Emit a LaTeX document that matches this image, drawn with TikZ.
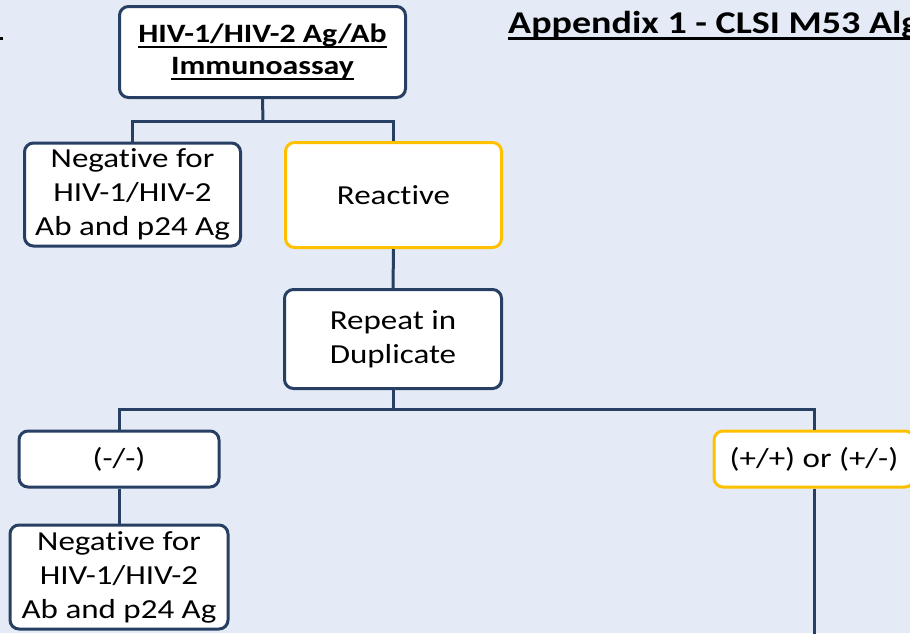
\documentclass[tikz,border=0pt]{standalone}
\usepackage{fontspec}
\setmainfont{Carlito}[FakeStretch=1.2, Ligatures=NoCommon]
\definecolor{bg}{HTML}{E5EBF6}
\definecolor{navy}{HTML}{263F63}
\definecolor{gold}{HTML}{FFC000}
\newcommand{\boxtext}{\fontsize{27.5}{34}\selectfont}
% #1 = lowering of rule bottom, #2 = thickness, #3 = text
\newcommand{\myul}[3]{\setbox0\hbox{#3}\rlap{\rule[-#1]{\wd0}{#2}}\box0}
\tikzset{
  flowbox/.style={draw=navy, line width=3pt, fill=white, rounded corners=9pt,
    align=center, font=\boxtext, inner sep=0pt},
  goldbox/.style={flowbox, draw=gold},
  link/.style={draw=navy, line width=3pt},
}
\begin{document}
\begin{tikzpicture}[x=1pt,y=-1pt]
\useasboundingbox (0,0) rectangle (910,633);
\fill[bg] (0,0) rectangle (910,633);
\fill[black] (0,37) rectangle (2.5,39.5);

\node[anchor=base west, inner sep=0pt, font=\fontsize{31.7}{38}\selectfont\bfseries] (title) at (508,33)
  {\myul{6.5pt}{3pt}{Appendix 1 - CLSI M53 Algorithm}};

\node[flowbox, minimum width=286pt, minimum height=91pt, font=\fontsize{26.5}{32}\selectfont\bfseries] (top) at (262.5,52)
  {\myul{5.3pt}{2.3pt}{HIV-1/HIV-2 Ag/Ab}\\\myul{5.3pt}{2.3pt}{Immunoassay}};
\node[flowbox, minimum width=216pt, minimum height=103pt] (neg1) at (132.5,194.5)
  {Negative for\\HIV-1/HIV-2\\Ab and p24 Ag};
\node[goldbox, minimum width=216pt, minimum height=105pt] (react) at (393.5,195)
  {Reactive};
\node[flowbox, minimum width=217pt, minimum height=99pt] (rep) at (393,339)
  {Repeat in\\Duplicate};
\node[flowbox, minimum width=200pt, minimum height=56pt] (minus) at (119,459)
  {(-/-)};
\node[goldbox, minimum width=200pt, minimum height=56pt] (plus) at (814,459)
  {(+/+) or (+/-)};
\node[flowbox, minimum width=218pt, minimum height=104pt] (neg2) at (119,577)
  {Negative for\\HIV-1/HIV-2\\Ab and p24 Ag};

\coordinate (bus1) at (263,121);
\coordinate (bus2) at (393,409.5);
\coordinate (down) at (814,640);

\draw[link] (top.south) -- (bus1);
\draw[link] (neg1.north) -- (neg1.north |- bus1) -| (react.north);
\draw[link] (react.south) -- (rep.north);
\draw[link] (rep.south) -- (bus2);
\draw[link] (minus.north) -- (minus.north |- bus2) -| (plus.north);
\draw[link] (minus.south) -- (neg2.north);
\draw[link] (plus.south) -- (down);
\end{tikzpicture}
\end{document}
